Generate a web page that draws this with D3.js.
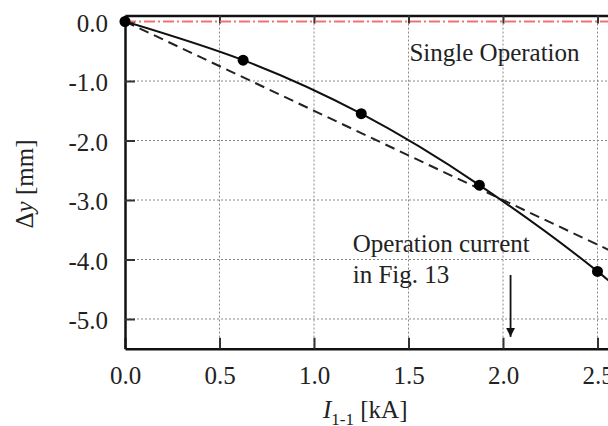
<!DOCTYPE html>
<html>
<head>
<meta charset="utf-8">
<script src="https://cdn.jsdelivr.net/npm/d3@7"></script>
<style>
  html, body { margin: 0; padding: 0; background: #fff; overflow: hidden; }
  text { font-family: "Liberation Serif", "Times New Roman", serif; fill: #222; }
</style>
</head>
<body>
<div id="chart"></div>
<script>
// Measured points (solid line with markers).
const current = [0, 0.625, 1.25, 1.875, 2.5];
const deflection = [0, -0.65, -1.55, -2.75, -4.2];

// Solid curve continues past the last marker.
const curveI = [0, 0.625, 1.25, 1.875, 2.5, 2.75];
const curveDy = [0, -0.65, -1.55, -2.75, -4.2, -4.95];

// Dashed reference line.
const dashedI = [0, 3.0];
const dashedDy = [0, -4.5];

// Single operation (red dash-dot) line.
const singleI = [0, 3.0];
const singleDy = [0, 0];

const xTicks = [0, 0.5, 1.0, 1.5, 2.0, 2.5];
const yTicks = [0, -1, -2, -3, -4, -5];

// Size of the picture.
const width = 608;
const height = 426;

const x = d3.scaleLinear().domain([0, 3]).range([125, 692]);
const y = d3.scaleLinear().domain([-5.5, 0.1]).range([348.75, 15.55]);

const svg = d3.select("#chart")
  .append("svg")
    .attr("width", width)
    .attr("height", height);

svg.append("defs")
  .append("marker")
    .attr("id", "arrow")
    .attr("viewBox", "0 0 10 10")
    .attr("refX", 10)
    .attr("refY", 5)
    .attr("markerWidth", 9)
    .attr("markerHeight", 11)
    .attr("markerUnits", "userSpaceOnUse")
    .attr("orient", "auto")
  .append("path")
    .attr("d", "M0,0 L10,5 L0,10 Z")
    .attr("fill", "#111");

svg.append("clipPath")
    .attr("id", "plotClip")
  .append("rect")
    .attr("x", x(0))
    .attr("y", y(0.1))
    .attr("width", x(3) - x(0))
    .attr("height", y(-5.5) - y(0.1));

// Dotted grid.
const grid = svg.append("g");
grid.selectAll("line.vx")
  .data(xTicks.slice(1))
  .enter()
  .append("line")
    .attr("x1", d => x(d))
    .attr("x2", d => x(d))
    .attr("y1", y(0.1))
    .attr("y2", y(-5.5))
    .attr("stroke", "#888")
    .attr("stroke-width", 1)
    .attr("stroke-dasharray", "2,2");
grid.selectAll("line.hy")
  .data(yTicks.slice(1))
  .enter()
  .append("line")
    .attr("x1", x(0))
    .attr("x2", x(3))
    .attr("y1", d => y(d))
    .attr("y2", d => y(d))
    .attr("stroke", "#888")
    .attr("stroke-width", 1)
    .attr("stroke-dasharray", "2,2");

// Axes: ticks point inwards, labels use a plain hyphen for minus.
const fmt = d => d3.format(".1f")(d).replace("\u2212", "-");

const xAxis = svg.append("g")
  .attr("transform", `translate(0,${y(-5.5)})`)
  .call(d3.axisBottom(x).tickValues(xTicks).tickFormat(fmt).tickSizeInner(-11).tickSizeOuter(0).tickPadding(20));

const xAxisTop = svg.append("g")
  .attr("transform", `translate(0,${y(0.1)})`)
  .call(d3.axisTop(x).tickValues(xTicks).tickFormat("").tickSizeInner(-8).tickSizeOuter(0));

const yAxis = svg.append("g")
  .attr("transform", `translate(${x(0)},0)`)
  .call(d3.axisLeft(y).tickValues(yTicks).tickFormat(fmt).tickSizeInner(-10).tickSizeOuter(0).tickPadding(17));

[xAxis, xAxisTop, yAxis].forEach(g => {
  g.select(".domain").attr("stroke", "#111").attr("stroke-width", 2.5);
  g.selectAll(".tick line").attr("stroke", "#333").attr("stroke-width", 2);
  g.selectAll(".tick text")
    .attr("font-family", "Liberation Serif, Times New Roman, serif")
    .attr("font-size", 25)
    .attr("fill", "#222");
});
xAxis.selectAll(".tick text").attr("dy", "0.6em");
yAxis.selectAll(".tick text").attr("dy", "0.38em");

const plot = svg.append("g").attr("clip-path", "url(#plotClip)");

// Single operation line.
plot.append("path")
  .datum(singleI.map((d, i) => [d, singleDy[i]]))
  .attr("d", d3.line().x(d => x(d[0])).y(d => y(d[1])))
  .attr("fill", "none")
  .attr("stroke", "#f27272")
  .attr("stroke-width", 2.2)
  .attr("stroke-dasharray", "11,3,2,3");

// Dashed reference line.
plot.append("path")
  .datum(dashedI.map((d, i) => [d, dashedDy[i]]))
  .attr("d", d3.line().x(d => x(d[0])).y(d => y(d[1])))
  .attr("fill", "none")
  .attr("stroke", "#222")
  .attr("stroke-width", 2)
  .attr("stroke-dasharray", "10,6");

// Solid curve.
plot.append("path")
  .datum(curveI.map((d, i) => [d, curveDy[i]]))
  .attr("d", d3.line().curve(d3.curveNatural).x(d => x(d[0])).y(d => y(d[1])))
  .attr("fill", "none")
  .attr("stroke", "#111")
  .attr("stroke-width", 2);

// Markers.
svg.selectAll("circle.pt")
  .data(current.map((d, i) => [d, deflection[i]]))
  .enter()
  .append("circle")
    .attr("cx", d => x(d[0]))
    .attr("cy", d => y(d[1]))
    .attr("r", 5.5)
    .attr("fill", "#000");

// Annotations.
svg.append("text")
  .attr("x", x(1.505))
  .attr("y", y(-0.66))
  .attr("font-size", 25)
  .text("Single Operation");

svg.append("text")
  .attr("x", x(1.205))
  .attr("y", y(-3.87))
  .attr("font-size", 25)
  .text("Operation current");

svg.append("text")
  .attr("x", x(1.205))
  .attr("y", y(-4.39))
  .attr("font-size", 25)
  .text("in Fig. 13");

svg.append("line")
  .attr("x1", x(2.04))
  .attr("x2", x(2.04))
  .attr("y1", y(-4.26))
  .attr("y2", y(-5.3))
  .attr("stroke", "#111")
  .attr("stroke-width", 1.8)
  .attr("marker-end", "url(#arrow)");

// Axis titles.
const xTitle = svg.append("text")
  .attr("x", 323)
  .attr("y", 418)
  .attr("font-size", 25);
xTitle.append("tspan").attr("font-style", "italic").text("I");
xTitle.append("tspan").attr("font-size", 17).attr("dy", 7).text("1-1");
xTitle.append("tspan").attr("dy", -7).text(" [kA]");

const yTitle = svg.append("text")
  .attr("transform", "translate(33,184) rotate(-90)")
  .attr("text-anchor", "middle")
  .attr("font-size", 25);
yTitle.append("tspan").text("Δ");
yTitle.append("tspan").attr("font-style", "italic").text("y");
yTitle.append("tspan").text(" [mm]");
</script>
</body>
</html>
